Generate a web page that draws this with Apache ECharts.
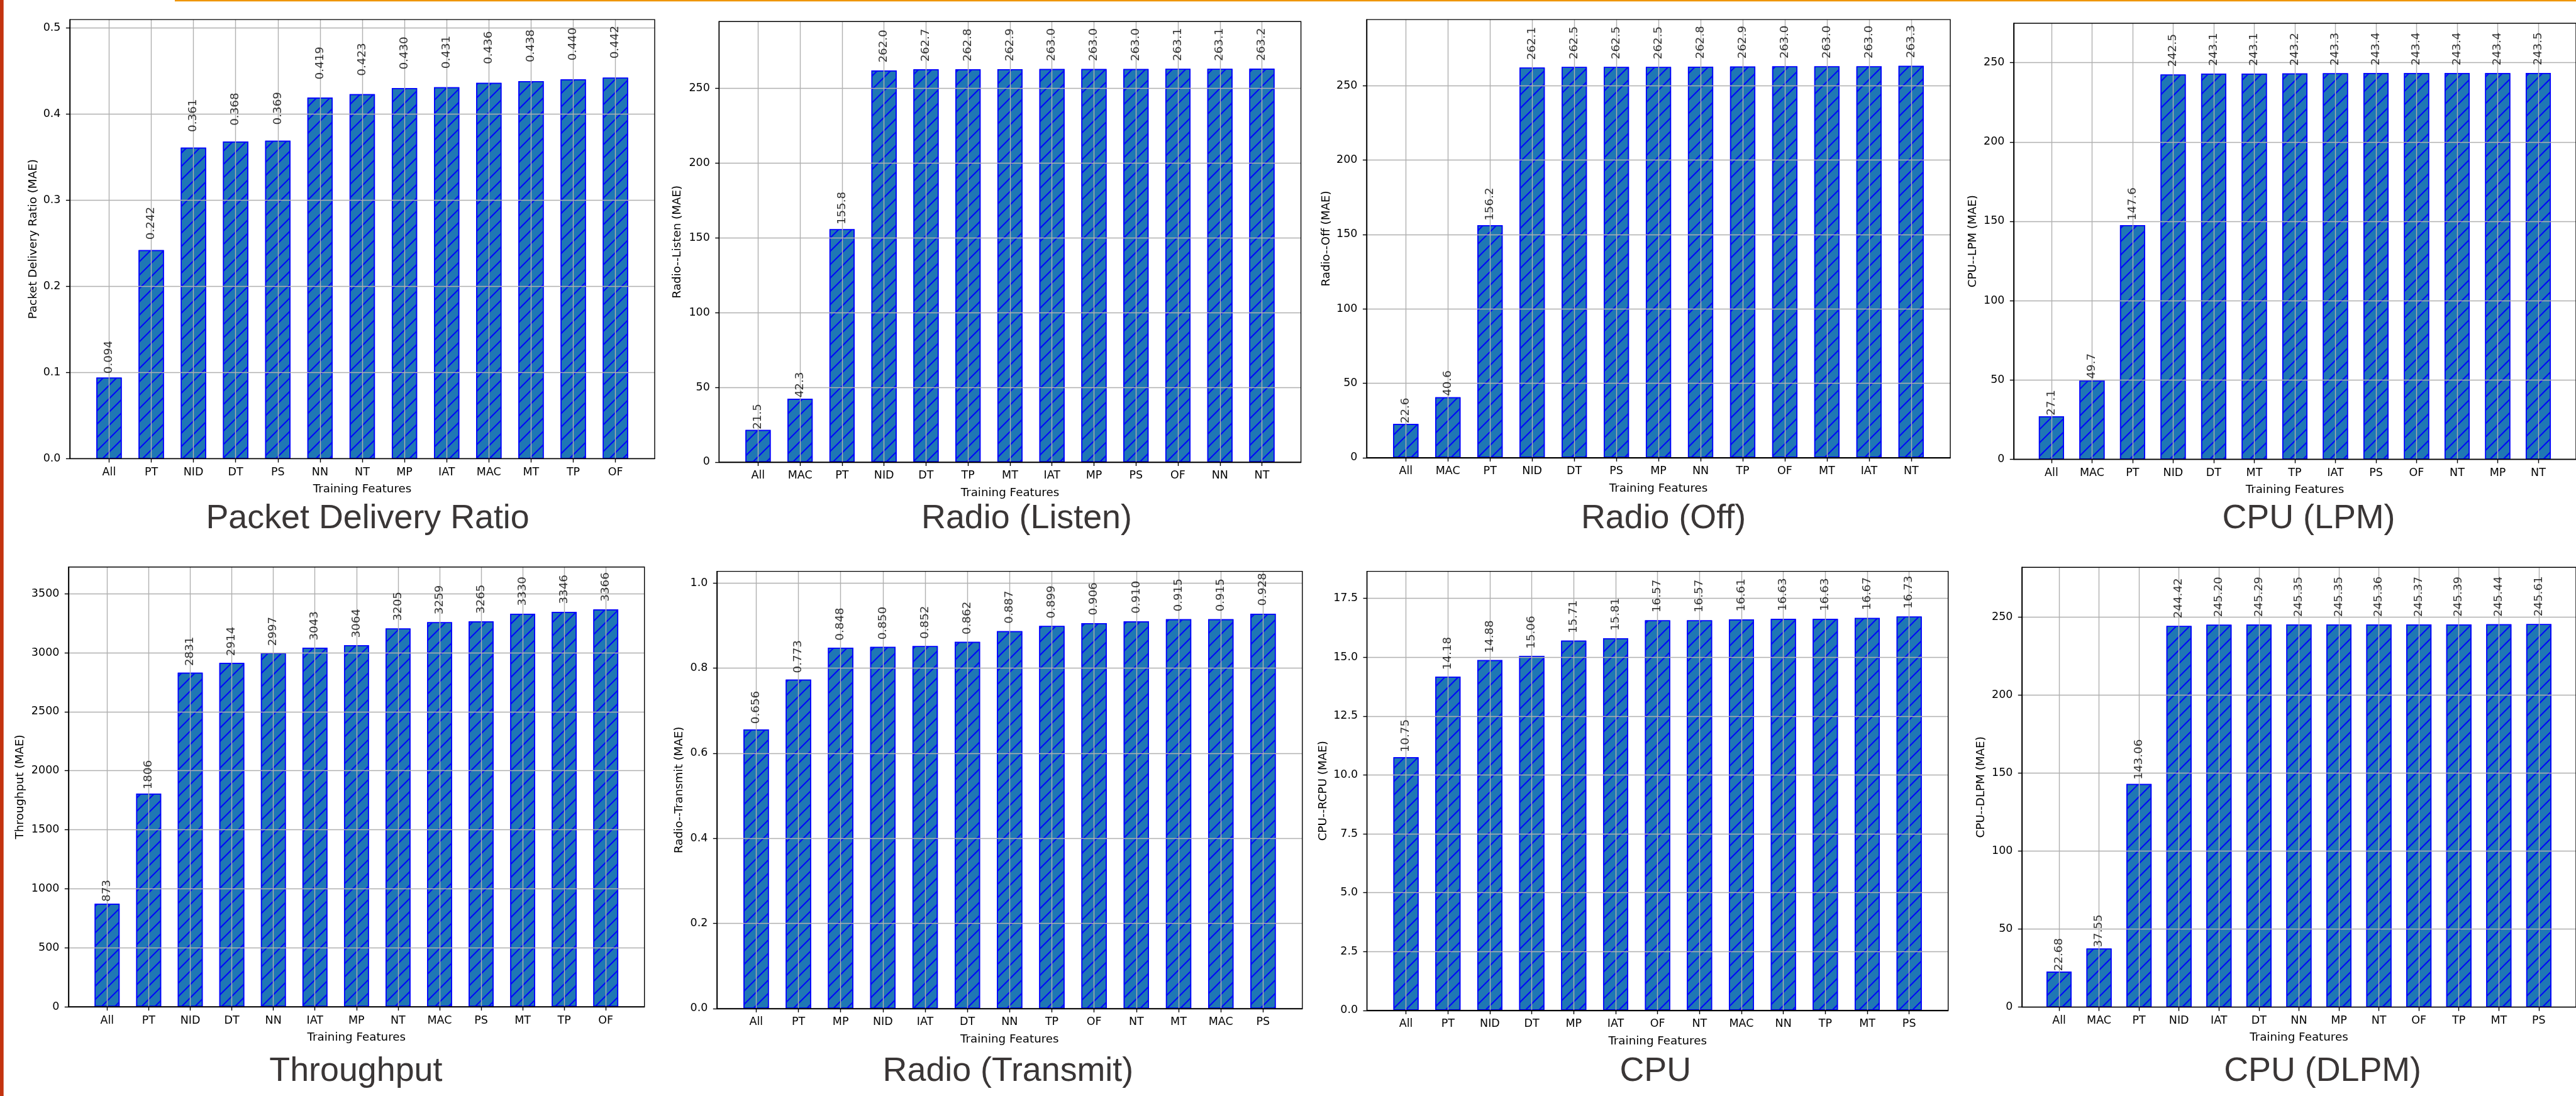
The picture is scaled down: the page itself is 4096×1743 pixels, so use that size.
<!DOCTYPE html>
<html>
<head>
<meta charset="utf-8">
<script src="https://cdn.jsdelivr.net/npm/echarts@6/dist/echarts.min.js"></script>
<style>
html,body{margin:0;padding:0;background:#fff;}
#chart{width:4096px;height:1743px;}
</style>
</head>
<body>
<div id="chart"></div>
<script>
// ---------- DATA ----------
const pdrCats = ['All','PT','NID','DT','PS','NN','NT','MP','IAT','MAC','MT','TP','OF'];
const pdrVals = [0.094,0.242,0.361,0.368,0.369,0.419,0.423,0.430,0.431,0.436,0.438,0.440,0.442];
const pdrTicks = [0.0,0.1,0.2,0.3,0.4,0.5];

const listenCats = ['All','MAC','PT','NID','DT','TP','MT','IAT','MP','PS','OF','NN','NT'];
const listenVals = [21.5,42.3,155.8,262.0,262.7,262.8,262.9,263.0,263.0,263.0,263.1,263.1,263.2];
const listenTicks = [0,50,100,150,200,250];

const offCats = ['All','MAC','PT','NID','DT','PS','MP','NN','TP','OF','MT','IAT','NT'];
const offVals = [22.6,40.6,156.2,262.1,262.5,262.5,262.5,262.8,262.9,263.0,263.0,263.0,263.3];
const offTicks = [0,50,100,150,200,250];

const lpmCats = ['All','MAC','PT','NID','DT','MT','TP','IAT','PS','OF','NT','MP','NT'];
const lpmVals = [27.1,49.7,147.6,242.5,243.1,243.1,243.2,243.3,243.4,243.4,243.4,243.4,243.5];
const lpmTicks = [0,50,100,150,200,250];

const thrCats = ['All','PT','NID','DT','NN','IAT','MP','NT','MAC','PS','MT','TP','OF'];
const thrVals = [873,1806,2831,2914,2997,3043,3064,3205,3259,3265,3330,3346,3366];
const thrTicks = [0,500,1000,1500,2000,2500,3000,3500];

const txCats = ['All','PT','MP','NID','IAT','DT','NN','TP','OF','NT','MT','MAC','PS'];
const txVals = [0.656,0.773,0.848,0.850,0.852,0.862,0.887,0.899,0.906,0.910,0.915,0.915,0.928];
const txTicks = [0.0,0.2,0.4,0.6,0.8,1.0];

const cpuCats = ['All','PT','NID','DT','MP','IAT','OF','NT','MAC','NN','TP','MT','PS'];
const cpuVals = [10.75,14.18,14.88,15.06,15.71,15.81,16.57,16.57,16.61,16.63,16.63,16.67,16.73];
const cpuTicks = [0.0,2.5,5.0,7.5,10.0,12.5,15.0,17.5];

const dlpmCats = ['All','MAC','PT','NID','IAT','DT','NN','MP','NT','OF','TP','MT','PS'];
const dlpmVals = [22.68,37.55,143.06,244.42,245.20,245.29,245.35,245.35,245.36,245.37,245.39,245.44,245.61];
const dlpmTicks = [0,50,100,150,200,250];

// ---------- LAYOUT / STYLE ----------
const panels = [
  {cats:pdrCats, vals:pdrVals, ticks:pdrTicks, ymax:0.5095, tDec:1, vDec:3, lift:1.05,
   yName:'Packet Delivery Ratio (MAE)', title:'Packet Delivery Ratio',
   box:[111.0,31.1,930.0,698.3], gap:49, tx:584.6, ty:825.4},
  {cats:listenCats, vals:listenVals, ticks:listenTicks, ymax:294.7, tDec:0, vDec:1, lift:1.02,
   yName:'Radio--Listen (MAE)', title:'Radio (Listen)',
   box:[1143.3,34.3,925.3,700.6], gap:57, tx:1632.5, ty:825.4},
  {cats:offCats, vals:offVals, ticks:offTicks, ymax:294.4, tDec:0, vDec:1, lift:1.02,
   yName:'Radio--Off (MAE)', title:'Radio (Off)',
   box:[2173.0,31.1,928.1,696.7], gap:55, tx:2645.0, ty:825.4},
  {cats:lpmCats, vals:lpmVals, ticks:lpmTicks, ymax:274.8, tDec:0, vDec:1, lift:1.02,
   yName:'CPU--LPM (MAE)', title:'CPU (LPM)',
   box:[3201.9,37.0,924.9,693.5], gap:55.5, tx:3671.0, ty:825.4},
  {cats:thrCats, vals:thrVals, ticks:thrTicks, ymax:3726.5, tDec:0, vDec:0, lift:1.02,
   yName:'Throughput (MAE)', title:'Throughput',
   box:[108.9,901.7,915.8,699.3], gap:67.5, tx:565.9, ty:1703.8},
  {cats:txCats, vals:txVals, ticks:txTicks, ymax:1.0276, tDec:1, vDec:3, lift:1.02,
   yName:'Radio--Transmit (MAE)', title:'Radio (Transmit)',
   box:[1139.9,908.6,930.9,695.3], gap:51, tx:1602.9, ty:1703.8},
  {cats:cpuCats, vals:cpuVals, ticks:cpuTicks, ymax:18.65, tDec:1, vDec:2, lift:1.02,
   yName:'CPU--RCPU (MAE)', title:'CPU',
   box:[2173.6,908.6,924.1,698.2], gap:60.5, tx:2632.2, ty:1703.8},
  {cats:dlpmCats, vals:dlpmVals, ticks:dlpmTicks, ymax:282, tDec:0, vDec:2, lift:1.02,
   yName:'CPU--DLPM (MAE)', title:'CPU (DLPM)',
   box:[3214.9,902.2,923.5,699.4], gap:55.5, tx:3693.1, ty:1703.8}
];

const XMIN = -0.93, XMAX = 12.93;
const MPL = "'DejaVu Sans', sans-serif";
const grids = [], xAxes = [], yAxes = [], series = [], graphics = [];

panels.forEach((p, i) => {
  const [L, T, W, H] = p.box;
  const idx = p.cats.map((c, k) => k);
  grids.push({left:L, top:T, width:W, height:H, show:true, borderColor:'#000', borderWidth:1.4, z:10});
  xAxes.push({
    type:'value', gridIndex:i, min:XMIN, max:XMAX, z:10,
    axisLine:{show:true, onZero:false, lineStyle:{color:'#000', width:1.4}},
    axisTick:{show:true, customValues:idx, length:6.1, lineStyle:{color:'#000', width:1.4}},
    axisLabel:{show:true, customValues:idx, margin:13, fontSize:17.5, fontFamily:MPL, color:'#000',
      formatter:(v) => p.cats[Math.round(v)]},
    splitLine:{show:false},
    name:'Training Features', nameLocation:'middle', nameGap:40,
    nameTextStyle:{fontSize:18.3, fontFamily:MPL, color:'#000'}
  });
  yAxes.push({
    type:'value', gridIndex:i, min:0, max:p.ymax, z:10,
    axisLine:{show:true, onZero:false, lineStyle:{color:'#000', width:1.4}},
    axisTick:{show:true, customValues:p.ticks, length:6.1, lineStyle:{color:'#000', width:1.4}},
    axisLabel:{show:true, customValues:p.ticks, margin:14.5, fontSize:17.5, fontFamily:MPL, color:'#000',
      formatter:(v) => Number(v).toFixed(p.tDec)},
    splitLine:{show:false},
    name:p.yName, nameLocation:'middle', nameGap:p.gap, nameRotate:90,
    nameTextStyle:{fontSize:18.3, fontFamily:MPL, color:'#000'}
  });
  const barW = 0.6 * W / (XMAX - XMIN);
  series.push({
    type:'bar', xAxisIndex:i, yAxisIndex:i, barWidth:barW, z:2,
    data:p.vals.map((v, k) => [k, v]),
    itemStyle:{color:'#1f77b4', borderColor:'#0000ff', borderWidth:1.5,
      decal:{symbol:'rect', symbolSize:1, color:'#0000ff', dashArrayX:[1,0], dashArrayY:[2,13], rotation:-Math.PI/4}},
    markLine:{silent:true, symbol:['none','none'], label:{show:false}, z:5,
      lineStyle:{color:'#b0b0b0', width:1.4, type:'solid'},
      emphasis:{disabled:true},
      data:[...idx.map(k => ({xAxis:k})), ...p.ticks.filter(t => t > 0).map(t => ({yAxis:t}))]}
  });
  series.push({
    type:'scatter', xAxisIndex:i, yAxisIndex:i, symbolSize:0, silent:true, z:20,
    data:p.vals.map((v, k) => [k, v * p.lift, v]),
    label:{show:true, position:'inside', rotate:90, align:'left', verticalAlign:'middle',
      fontSize:18.3, fontFamily:MPL, color:'#000',
      formatter:(q) => Number(q.data[2]).toFixed(p.vDec)}
  });
  graphics.push({type:'text', x:p.tx, y:p.ty, z:100,
    style:{text:p.title, fontSize:53.8, fontFamily:"'Liberation Sans', Arial, sans-serif",
      fill:'#3a3636', align:'center', verticalAlign:'middle'}});
});

graphics.push({type:'rect', shape:{x:0, y:0, width:5.7, height:1743}, style:{fill:'#c3330f'}, z:100});
graphics.push({type:'rect', shape:{x:278, y:0, width:4096-278, height:2.3}, style:{fill:'#ef9500'}, z:100});

const chart = echarts.init(document.getElementById('chart'), null, {renderer:'canvas'});
chart.setOption({
  animation:false,
  backgroundColor:'#ffffff',
  grid:grids, xAxis:xAxes, yAxis:yAxes, series:series, graphic:graphics
});
</script>
</body>
</html>
